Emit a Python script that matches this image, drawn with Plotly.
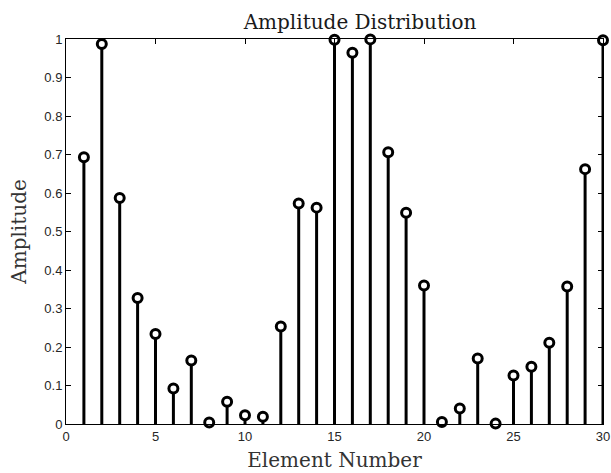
import plotly.graph_objects as go

elements = list(range(1, 31))
amplitude = [0.693, 0.987, 0.587, 0.327, 0.234, 0.092, 0.165, 0.004, 0.058, 0.023,
             0.019, 0.253, 0.573, 0.562, 0.998, 0.964, 0.999, 0.706, 0.549, 0.360,
             0.005, 0.040, 0.170, 0.001, 0.126, 0.149, 0.211, 0.357, 0.662, 0.997]
x_ticks = [0, 5, 10, 15, 20, 25, 30]
y_ticks = [0, 0.1, 0.2, 0.3, 0.4, 0.5, 0.6, 0.7, 0.8, 0.9, 1]
y_tick_labels = ["0", "0.1", "0.2", "0.3", "0.4", "0.5", "0.6", "0.7", "0.8", "0.9", "1"]

stem_x, stem_y = [], []
for xv, yv in zip(elements, amplitude):
    stem_x += [xv, xv, None]
    stem_y += [0, yv, None]

fig = go.Figure()
fig.add_trace(go.Scatter(x=stem_x, y=stem_y, mode="lines",
                         line=dict(color="black", width=3), hoverinfo="skip",
                         showlegend=False))
fig.add_trace(go.Scatter(x=elements, y=amplitude, mode="markers",
                         marker=dict(symbol="circle", size=9, color="white",
                                     line=dict(color="black", width=3)),
                         cliponaxis=False, showlegend=False))

axis_common = dict(showgrid=False, zeroline=False, showline=True, linecolor="black",
                   linewidth=1, mirror="ticks", ticks="inside", ticklen=5,
                   tickcolor="black", tickwidth=1, automargin=False,
                   tickfont=dict(family="Liberation Sans, Arial", size=13, color="#262626"))

label_font = dict(family="DejaVu Serif", size=20, color="#333333")

fig.update_layout(
    width=611, height=473,
    margin=dict(l=66, r=8, t=39, b=49),
    paper_bgcolor="white", plot_bgcolor="white",
    title=dict(text="Amplitude Distribution", x=(66 + 603) / 2 / 611, xanchor="center",
               y=1 - 22/473, yanchor="middle", xref="paper",
               font=dict(family="DejaVu Serif", size=20, color="#1a1a1a")),
    xaxis=dict(range=[0, 30], tickvals=x_ticks,
               title=dict(text="Element Number", standoff=10, font=label_font),
               **axis_common),
    yaxis=dict(range=[0, 1], tickvals=y_ticks, ticktext=y_tick_labels,
               title=dict(text="Amplitude", standoff=12, font=label_font),
               **axis_common),
)

fig.write_html("out.html")
